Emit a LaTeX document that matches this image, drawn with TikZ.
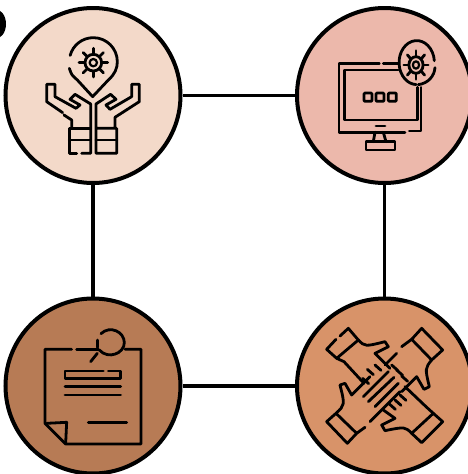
\documentclass[tikz,border=0pt]{standalone}
\usetikzlibrary{calc}
\tikzset{
  stage/.style={circle,draw=black,line width=4pt,minimum size=175pt,inner sep=0pt},
  link/.style={line width=3.8pt},
  icon/.style={x=.3333pt,y=-.3333pt,line width=2.8pt,line cap=round,line join=round}
}
\definecolor{palepeach}{HTML}{F3D9C9}
\definecolor{palerose}{HTML}{ECB8AB}
\definecolor{darkclay}{HTML}{B77B55}
\definecolor{softclay}{HTML}{D89369}
% gear: centre, then x scale
\newcommand{\geargl}[3]{%
  \draw[line width=2.2pt] (#1,#2) ellipse [x radius=#3*11,y radius=11];
  \draw (#1,#2) ellipse [x radius=#3*25,y radius=25];
  \foreach \a in {0,45,...,315}
    \draw ($(#1,#2)+(\a:#3*27 and 27)$) -- ($(#1,#2)+(\a:#3*43 and 43)$);
}
\begin{document}
\begin{tikzpicture}[x=1pt,y=-1pt]
  \useasboundingbox (0,0) rectangle (467,474);

  \fill (-5,24) ellipse [x radius=11,y radius=15];

  \node[stage,fill=palepeach] (care) at (93,95.5) {};
  \node[stage,fill=palerose] (screen) at (384.5,95.5) {};
  \node[stage,fill=darkclay] (note) at (93,386) {};
  \node[stage,fill=softclay] (hands) at (384.5,386) {};

  \draw[link] (care) -- (screen);
  \draw[link] (care) -- (note);
  \draw[link] (screen) -- (hands);
  \draw[link] (note) -- (hands);

  % open hands under a pin
  \begin{scope}[icon]
    \draw (208,205) .. controls (215,225) .. (232,240) -- (278,290) -- (325,240)
      .. controls (345,222) and (352,205) .. (352,185)
      arc [start angle=0,end angle=-165,radius=72];
    \geargl{280}{188}{1}
    \draw (188,338) -- (140,305) -- (140,253) -- (165,253) -- (165,290) -- (228,325)
      -- (240,315) -- (210,298) -- (225,283) -- (272,312) -- (272,460) -- (245,460);
    \draw (230,460) -- (208,460) -- (208,385) -- (270,385);
    \draw (192,345) -- (215,360) -- (215,385);
    \draw (208,420) -- (270,420);
    \draw (288,385) -- (345,385) -- (345,352) -- (418,305) -- (418,253) -- (395,253)
      -- (395,290) -- (330,328) -- (318,315) -- (348,298) -- (332,283) -- (288,312)
      -- (288,460) -- (350,460) -- (350,385);
    \draw (288,420) -- (350,420);
  \end{scope}

  % monitor with gear badge
  \begin{scope}[shift={(290,0)},icon]
    \draw (268,190) -- (147,190) -- (147,397) -- (345,397);
    \draw (280,190) -- (325,190);
    \draw (358,393) -- (393,393) -- (393,262);
    \draw (325,210) -- (163,210) -- (163,360) -- (382,360) -- (382,262);
    \foreach \x in {222,258,295}
      \draw[rounded corners=1pt] (\x,279) rectangle ++(24,25);
    \draw (258,378) -- (285,378);
    \draw (255,397) -- (250,425);
    \draw (280,397) -- (288,425);
    \draw (228,425) rectangle (315,450);
    \draw (433,182) arc [start angle=-5,end angle=-268,x radius=53,y radius=66];
    \draw (435,203) .. controls (433,228) and (415,250) .. (385,254);
    \geargl{378}{195}{.85}
  \end{scope}

  % note with magnifier
  \begin{scope}[shift={(0,290)},icon]
    \draw (215,178) -- (135,178) -- (135,400) -- (197,462) -- (423,462) -- (423,178) -- (375,178);
    \draw (230,178) -- (296,178);
    \draw (140,400) -- (200,397) -- (197,460);
    \draw (292,150) -- (292,172);
    \draw (303,131) .. controls (330,105) and (373,125) .. (373,158)
      .. controls (373,190) and (325,210) .. (298,180);
    \draw (292,190) -- (272,215);
    \draw (310,243) -- (195,243) -- (195,266) -- (362,266) -- (362,243) -- (325,243);
    \draw (195,290) -- (362,290);
    \draw (195,315) -- (362,315);
    \draw (265,397) -- (380,397);
  \end{scope}

  % four joined hands
  \begin{scope}[shift={(290,290)},icon]
    % cuffs
    \draw (205,150) -- (175,115) -- (150,138);
    \draw (138,148) -- (110,178) -- (140,205) -- (205,150);
    \draw (365,148) -- (395,115) -- (458,180) -- (425,210) -- cycle;
    \draw (138,370) -- (110,395) -- (172,460) -- (200,430) -- cycle;
    \draw (430,370) -- (458,395) -- (395,458) -- (365,430) -- cycle;
    % top left hand
    \draw (205,150) .. controls (225,170) .. (285,155) -- (295,170) -- (255,190) -- (300,235);
    \draw (140,205) -- (162,215) -- (222,280);
    % top right hand
    \draw (365,148) -- (335,170);
    \draw (320,190) -- (285,225);
    \draw (425,210) .. controls (405,235) .. (418,290) -- (402,298) -- (380,260) -- (335,305);
    % bottom left hand
    \draw (138,370) .. controls (165,345) .. (150,285) -- (165,280) -- (185,315) -- (240,260);
    \draw (200,430) -- (225,412);
    \draw (240,395) -- (330,305);
    % bottom right hand
    \draw (430,370) -- (408,350) -- (345,290);
    \draw (365,430) .. controls (345,410) .. (285,422) -- (275,405) -- (315,385) -- (280,360);
    % fingers
    \draw (220,320) -- (295,245);
    \draw (235,335) -- (312,262);
    \draw (255,350) -- (325,280);
    \foreach \x/\y in {218/265,232/238,255/225,305/225,320/240,335/258,298/342,315/330,330/315}
      \draw (\x,\y) -- ++(18,16);
  \end{scope}
\end{tikzpicture}
\end{document}
